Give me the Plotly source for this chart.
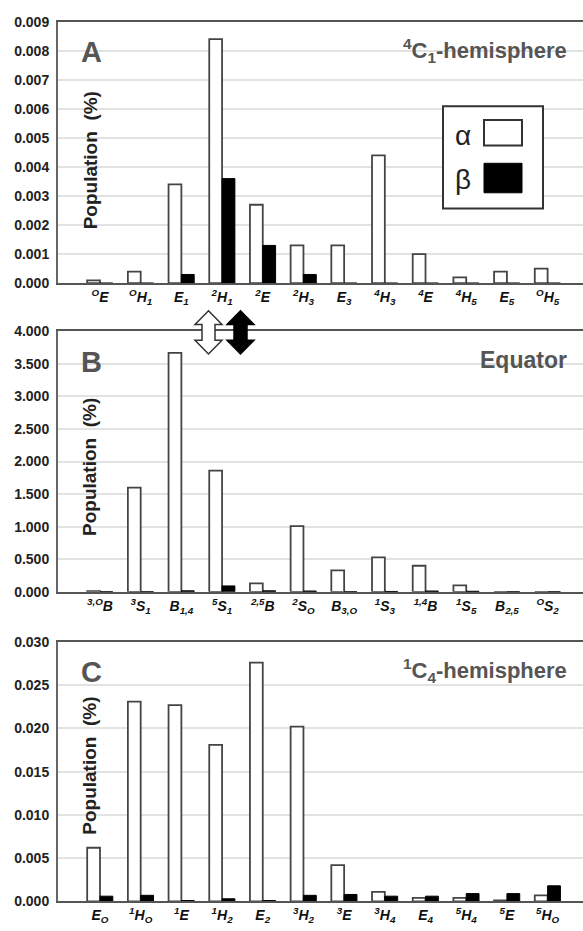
import plotly.graph_objects as go

W, H = 583, 931

cats_A = ["<sup>O</sup>E", "<sup>O</sup>H<sub>1</sub>", "E<sub>1</sub>", "<sup>2</sup>H<sub>1</sub>",
          "<sup>2</sup>E", "<sup>2</sup>H<sub>3</sub>", "E<sub>3</sub>", "<sup>4</sup>H<sub>3</sub>",
          "<sup>4</sup>E", "<sup>4</sup>H<sub>5</sub>", "E<sub>5</sub>", "<sup>O</sup>H<sub>5</sub>"]
alpha_A = [0.0001, 0.0004, 0.0034, 0.0084, 0.0027, 0.0013, 0.0013, 0.0044, 0.0010, 0.0002, 0.0004, 0.0005]
beta_A = [0, 0, 0.0003, 0.0036, 0.0013, 0.0003, 0, 0, 0, 0, 0, 0]

cats_B = ["<sup>3,O</sup>B", "<sup>3</sup>S<sub>1</sub>", "B<sub>1,4</sub>", "<sup>5</sup>S<sub>1</sub>",
          "<sup>2,5</sup>B", "<sup>2</sup>S<sub>O</sub>", "B<sub>3,O</sub>", "<sup>1</sup>S<sub>3</sub>",
          "<sup>1,4</sup>B", "<sup>1</sup>S<sub>5</sub>", "B<sub>2,5</sub>", "<sup>O</sup>S<sub>2</sub>"]
alpha_B = [0.01, 1.60, 3.67, 1.86, 0.13, 1.01, 0.33, 0.53, 0.40, 0.10, 0, 0]
beta_B = [0, 0, 0.015, 0.09, 0.015, 0.012, 0, 0.005, 0.012, 0.008, 0, 0]

cats_C = ["E<sub>O</sub>", "<sup>1</sup>H<sub>O</sub>", "<sup>1</sup>E", "<sup>1</sup>H<sub>2</sub>",
          "E<sub>2</sub>", "<sup>3</sup>H<sub>2</sub>", "<sup>3</sup>E", "<sup>3</sup>H<sub>4</sub>",
          "E<sub>4</sub>", "<sup>5</sup>H<sub>4</sub>", "<sup>5</sup>E", "<sup>5</sup>H<sub>O</sub>"]
alpha_C = [0.0062, 0.0231, 0.0227, 0.0181, 0.0276, 0.0202, 0.0042, 0.0011, 0.0004, 0.0004, 0.0001, 0.0007]
beta_C = [0.0006, 0.0007, 0.0001, 0.0003, 0.0001, 0.0007, 0.0008, 0.0006, 0.0006, 0.0009, 0.0009, 0.0018]

panels = [
    dict(cats=cats_A, a=alpha_A, b=beta_A, top=14, bot=280, ymax=0.009, dt=0.001,
         letter="A", title="<sup>4</sup>C<sub>1</sub>-hemisphere", tsize=22, lab=141),
    dict(cats=cats_B, a=alpha_B, b=beta_B, top=329, bot=594, ymax=4.0, dt=0.5,
         letter="B", title="Equator", tsize=23, lab=138),
    dict(cats=cats_C, a=alpha_C, b=beta_C, top=645, bot=909, ymax=0.030, dt=0.005,
         letter="C", title="<sup>1</sup>C<sub>4</sub>-hemisphere", tsize=22, lab=126),
]


def px(x):
    return x / W


def py(y):
    return 1 - y / H


FONT = "Liberation Sans, Arial, sans-serif"
fig = go.Figure()
layout = dict(
    width=W, height=H, margin=dict(l=0, r=0, t=0, b=0),
    paper_bgcolor="white", plot_bgcolor="white", showlegend=False,
    barmode="group", bargap=0.37, bargroupgap=0,
    font=dict(family=FONT, color="#222"),
)
annotations = []
shapes = []
left = 58
for k, p in enumerate(panels):
    n = k + 1
    xa = "x" if n == 1 else f"x{n}"
    ya = "y" if n == 1 else f"y{n}"
    xs = list(range(len(p["cats"])))
    fig.add_trace(go.Bar(x=xs, y=p["a"], xaxis=xa, yaxis=ya, name="α",
                         marker=dict(color="white", line=dict(color="#444", width=1.8))))
    fig.add_trace(go.Bar(x=xs, y=p["b"], xaxis=xa, yaxis=ya, name="β",
                         marker=dict(color="black", line=dict(color="black", width=1))))
    xkey = "xaxis" if n == 1 else f"xaxis{n}"
    ykey = "yaxis" if n == 1 else f"yaxis{n}"
    ntick = int(round(p["ymax"] / p["dt"]))
    tv = [i * p["dt"] for i in range(ntick + 1)]
    layout[xkey] = dict(domain=[px(left), 1], anchor=ya, range=[-1.032, 11.87],
                        tickvals=xs, ticktext=p["cats"], showgrid=False, zeroline=False,
                        showline=True, mirror=True, linecolor="#555", linewidth=2,
                        ticks="", tickfont=dict(size=14, family=FONT, color="#111",
                                                weight="bold", style="italic"))
    layout[ykey] = dict(domain=[py(p["bot"]), py(p["top"])], anchor=xa,
                        range=[0, p["ymax"]], tickvals=tv, ticktext=[f"{v:.3f}" for v in tv],
                        showgrid=True, gridcolor="#e2e2e2", gridwidth=2, zeroline=False,
                        showline=True, linecolor="#666", linewidth=2,
                        ticks="outside", ticklen=4, tickcolor="rgba(0,0,0,0)",
                        tickfont=dict(size=14, family=FONT, color="#222", weight="bold"))
    annotations.append(dict(x=px(91), y=py(p["top"] + 31), xref="paper", yref="paper",
                            text=f"<b>{p['letter']}</b>", showarrow=False,
                            font=dict(size=29, color="#555", family=FONT),
                            xanchor="center", yanchor="middle"))
    annotations.append(dict(x=px(569), y=py(p["top"] + 29), xref="paper", yref="paper",
                            text=f"<b>{p['title']}</b>", showarrow=False,
                            font=dict(size=p["tsize"], color="#555", family=FONT),
                            xanchor="right", yanchor="middle"))
    annotations.append(dict(x=px(90), y=py(p["top"] + p["lab"]), xref="paper", yref="paper",
                            text="<b>Population  (%)</b>", showarrow=False, textangle=-90,
                            font=dict(size=19, color="#222", family=FONT),
                            xanchor="center", yanchor="middle"))

# legend box in panel A
shapes.append(dict(type="rect", xref="paper", yref="paper", x0=px(443), x1=px(543),
                   y0=py(204), y1=py(100), line=dict(color="#333", width=2),
                   fillcolor="white", layer="above"))
shapes.append(dict(type="rect", xref="paper", yref="paper", x0=px(484), x1=px(522),
                   y0=py(140), y1=py(114), line=dict(color="#333", width=2),
                   fillcolor="white", layer="above"))
shapes.append(dict(type="rect", xref="paper", yref="paper", x0=px(484), x1=px(522),
                   y0=py(188), y1=py(158), line=dict(color="black", width=1),
                   fillcolor="black", layer="above"))
annotations.append(dict(x=px(463), y=py(130), xref="paper", yref="paper", text="α",
                        showarrow=False, font=dict(size=28, color="#222", family=FONT),
                        xanchor="center", yanchor="middle"))
annotations.append(dict(x=px(463), y=py(175), xref="paper", yref="paper", text="β",
                        showarrow=False, font=dict(size=28, color="#222", family=FONT),
                        xanchor="center", yanchor="middle"))


# double-headed arrows between A and B
def arrow_path(cx, top, bot, hw=13.5, sw=6.5, hh=14):
    pts = [(cx, top), (cx + hw, top + hh), (cx + sw, top + hh), (cx + sw, bot - hh),
           (cx + hw, bot - hh), (cx, bot), (cx - hw, bot - hh), (cx - sw, bot - hh),
           (cx - sw, top + hh), (cx - hw, top + hh)]
    return "M " + " L ".join(f"{px(x):.5f},{py(y):.5f}" for x, y in pts) + " Z"


shapes.append(dict(type="path", xref="paper", yref="paper", path=arrow_path(208.5, 308, 352),
                   fillcolor="white", line=dict(color="#333", width=1.5), layer="above"))
shapes.append(dict(type="path", xref="paper", yref="paper", path=arrow_path(240.5, 308, 352),
                   fillcolor="black", line=dict(color="black", width=1.5), layer="above"))

layout["annotations"] = annotations
layout["shapes"] = shapes
fig.update_layout(**layout)
fig.write_html("out.html")
